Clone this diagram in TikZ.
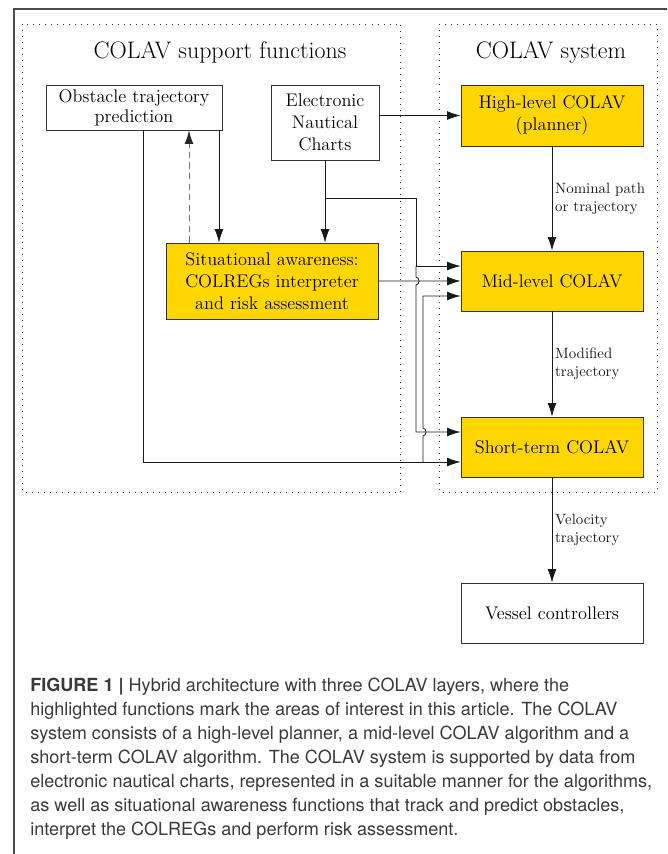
\documentclass[tikz,border=0pt]{standalone}
\usepackage{fontspec}
\newfontfamily\didafont{TeX Gyre Heros}
\usepackage{tikz}
\usetikzlibrary{arrows.meta,positioning}
\definecolor{giallocolav}{RGB}{255,214,0}
\definecolor{grigiotesto}{RGB}{58,58,58}
\tikzstyle{bloccobianco} = [rectangle,draw=black!80,line width=0.6pt,fill=white,text=black,align=center,inner sep=2pt]
\tikzstyle{bloccogiallo} = [rectangle,draw=black!80,line width=0.6pt,fill=giallocolav,text=black,align=center,inner sep=2pt]
\tikzstyle{titolo} = [font=\fontsize{17}{20}\selectfont]
\tikzstyle{etichetta} = [font=\fontsize{10.6}{12.8}\selectfont,align=left,inner sep=2pt]
\tikzstyle{riquadro} = [black!80,line width=0.7pt,dash pattern=on 0.7pt off 3.6pt]
\tikzstyle{linea} = [black!90,line width=0.55pt]
\tikzstyle{freccia} = [black!90,line width=0.55pt,->,>={Latex[length=9.5pt,width=6.2pt]}]
\tikzstyle{tratteggio} = [black!55,line width=0.7pt,dash pattern=on 4.5pt off 3pt,->,>={Latex[length=9.5pt,width=6.2pt,black!85]}]

\begin{document}
\begin{tikzpicture}
\tikzstyle{every node}=[font=\fontsize{13}{15.8}\selectfont]
\useasboundingbox (0,0) rectangle (16.675,-21.35);

% 1 px = 0.025cm

% cornice e riquadri
\draw[black!70,line width=1pt] (0.35,-21.35) -- (0.35,-0.225) -- (16.675,-0.225);
\draw[riquadro] (0.5625,-0.6) rectangle (10.0125,-12.3);
\draw[riquadro] (10.975,-0.6) rectangle (16.4375,-12.3);

\node (tsupp) [titolo,xshift=5.5cm,yshift=-1.3cm] {COLAV support functions};
\node (tsys)  [titolo,xshift=13.775cm,yshift=-1.3cm] {COLAV system};

% colonna COLAV
\node (high)   [bloccogiallo,minimum width=4.55cm,minimum height=1.525cm,xshift=13.8cm,yshift=-2.8875cm] {High-level COLAV\\(planner)};
\node (mid)    [bloccogiallo,minimum width=4.55cm,minimum height=1.5cm,below of=high,yshift=-3.1375cm] {Mid-level COLAV};
\node (short)  [bloccogiallo,minimum width=4.55cm,minimum height=1.5cm,below of=mid,yshift=-3.15cm] {Short-term COLAV};
\node (vessel) [bloccobianco,minimum width=4.55cm,minimum height=1.5cm,below of=short,yshift=-3.15cm] {Vessel controllers};

% funzioni di supporto
\node (obs) [bloccobianco,minimum width=4.4cm,minimum height=1.125cm,xshift=3.35cm,yshift=-2.6875cm] {Obstacle trajectory\\[-1.5pt]prediction};
\node (enc) [bloccobianco,minimum width=2.7cm,minimum height=1.875cm,xshift=8.125cm,yshift=-3.0625cm] {Electronic\\Nautical\\Charts};
\node (sa)  [bloccogiallo,minimum width=5.3cm,minimum height=1.9cm,xshift=6.8cm,yshift=-7.025cm] {Situational awareness:\\COLREGs interpreter\\and risk assessment};

\node (didascalia) [anchor=north west,inner sep=0pt,align=left,text=grigiotesto,font=\didafont\fontsize{12.85}{17}\selectfont,xshift=0.75cm,yshift=-16.95cm] {\textbf{FIGURE 1 |} Hybrid architecture with three COLAV layers, where the\\
highlighted functions mark the areas of interest in this article. The COLAV\\
system consists of a high-level planner, a mid-level COLAV algorithm and a\\
short-term COLAV algorithm. The COLAV system is supported by data from\\
electronic nautical charts, represented in a suitable manner for the algorithms,\\
as well as situational awareness functions that track and predict obstacles,\\
interpret the COLREGs and perform risk assessment.};

\coordinate (midA) at ([yshift=0.375cm]mid.west);
\coordinate (midC) at ([yshift=-0.375cm]mid.west);
\coordinate (shortA) at ([yshift=0.375cm]short.west);
\coordinate (shortB) at ([yshift=-0.375cm]short.west);
\coordinate (encbivio) at (enc |- 0,-4.95);
\coordinate (encangolo) at (10.4,-4.95);
\coordinate (obsgiu) at (3.575,0 |- obs.south);
\coordinate (obsbivio) at (10.575,0 |- shortB);

\draw[freccia] (enc.east |- high) -- (high);
\draw[freccia] (high) -- (mid) node[etichetta,midway,right] (lnom) {Nominal path\\or trajectory};
\draw[freccia] (mid) -- (short) node[etichetta,midway,right] (lmod) {Modified\\trajectory};
\draw[freccia] (short) -- (vessel) node[etichetta,midway,right] (lvel) {Velocity\\trajectory};

\draw[freccia] (5.475,0 |- obs.south) -- (5.475,0 |- sa.north);
\draw[tratteggio] (4.725,0 |- sa.north) -- (4.725,0 |- obs.south);
\draw[freccia] (enc) -- (enc |- sa.north);
\draw[freccia] (sa) -- (mid);

\draw[linea] (encbivio) -- (encangolo) -- (encangolo |- midA);
\draw[freccia] (encangolo |- midA) -- (midA);
\draw[freccia] (encangolo |- midA) -- (10.4,-6.925) .. controls (10.5,-6.925) and (10.5,-7.125) .. (10.4,-7.125) -- (encangolo |- shortA) -- (shortA);

\draw[freccia] (obsgiu) -- (obsgiu |- shortB) -- (shortB);
\draw[freccia] (obsbivio) -- (10.575,-10.9) .. controls (10.675,-10.9) and (10.675,-10.7) .. (10.575,-10.7) -- (obsbivio |- midC) -- (midC);

\end{tikzpicture}
\end{document}
